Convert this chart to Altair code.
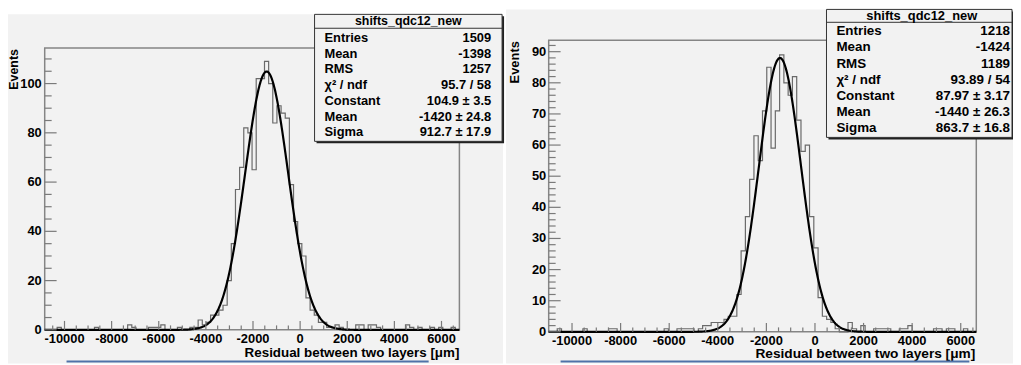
import altair as alt
import pandas as pd

# ---------------- data ----------------
# 100 equal bins over each histogram's x range
left_range = [-10840, 6760]
right_range = [-10960, 6640]

left_counts = [
    0, 0, 0, 1, 0, 0, 0, 0, 0, 0,
    0, 0, 1, 0, 0, 0, 0, 0, 0, 0,
    2, 1, 0, 0, 0, 1, 1, 1, 2, 0,
    0, 0, 1, 0, 0, 1, 1, 4, 2, 3,
    6, 6, 8, 10, 20, 35, 57, 66, 82, 80,
    65, 102, 102, 109, 100, 84, 91, 88, 86, 59,
    44, 35, 30, 13, 8, 6, 3, 3, 1, 1,
    2, 1, 0, 0, 0, 2, 2, 0, 2, 2,
    1, 0, 0, 0, 0, 0, 0, 2, 1, 0,
    1, 0, 0, 1, 0, 1, 0, 0, 1, 0,
]
right_counts = [
    0, 0, 1, 0, 0, 0, 0, 0, 1, 0,
    0, 0, 0, 0, 1, 1, 0, 0, 0, 0,
    0, 0, 0, 0, 0, 0, 0, 1, 0, 0,
    1, 1, 1, 1, 0, 1, 2, 2, 3, 3,
    3, 4, 5, 5, 12, 26, 37, 49, 63, 55,
    71, 85, 59, 71, 89, 80, 76, 82, 68, 58,
    60, 37, 27, 11, 5, 4, 3, 1, 0, 0,
    3, 1, 0, 2, 0, 0, 1, 1, 1, 1,
    0, 0, 1, 1, 2, 0, 0, 0, 0, 0,
    1, 1, 0, 1, 1, 0, 0, 1, 0, 0,
]

left_fit = [104.9, -1420, 912.7]     # Constant, Mean, Sigma
right_fit = [87.97, -1440, 863.7]

hist_name = "shifts_qdc12_new"
stat_labels = ["Entries", "Mean", "RMS", "χ² / ndf", "Constant", "Mean", "Sigma"]
left_stat_values = ["1509", "-1398", "1257", "95.7 / 58", "104.9 ± 3.5", "-1420 ± 24.8", "912.7 ± 17.9"]
right_stat_values = ["1218", "-1424", "1189", "93.89 / 54", "87.97 ± 3.17", "-1440 ± 26.3", "863.7 ± 16.8"]

x_label_values = [-10000, -8000, -6000, -4000, -2000, 0, 2000, 4000, 6000]
left_y_labels = [0, 20, 40, 60, 80, 100]
right_y_labels = [0, 10, 20, 30, 40, 50, 60, 70, 80, 90]

X_TITLE = "Residual between two layers [μm]"
Y_TITLE = "Events"

FONT = "Liberation Sans"
BG = "#f2f2f2"
FRAME = "#858585"
TICK = "#7a7a7a"
HIST = "#6a6a6a"
BLUE = "#4f72a8"

CW, CH = 1013, 357   # whole drawing area (page minus 8px margin)

# ---------------- layout (pixels, chart coordinates) ----------------
left_geom = dict(
    fx=[37, 455], fy=[39, 323], ymax=114.4, yminor=5, xminor=500,
    bg=[0, 499, 5, 357],
    box=[309, 498, 5, 133], sep=19, title_xy=[403.5, 12],
    lab_x=319, val_x=487, row0=29, rowstep=15.8,
    blue=[59, 424, 355],
    lfs=13, tfs=13.5, efs=12.5, sfs=13,
    ylab_x=34, xlab_y=326.5, xtitle=[455, 350.5], ytitle=[6, 40],
)
right_geom = dict(
    fx=[545, 976], fy=[31, 325], ymax=93.7, yminor=2, xminor=500,
    bg=[502, 1013, 0, 357],
    box=[825, 1012, 0, 129], sep=13, title_xy=[921, 6.5],
    lab_x=835, val_x=1010, row0=22, rowstep=16.3,
    blue=[557, 969, 355],
    lfs=13, tfs=13.8, efs=13, sfs=13.5,
    ylab_x=542.5, xlab_y=328, xtitle=[975, 351.5], ytitle=[511, 32],
)


def panel(counts, xrange_, fit, stat_values, y_labels, g):
    lo, hi = xrange_
    n = len(counts)
    edges = [lo + (hi - lo) * i / n for i in range(n + 1)]
    hist_df = pd.DataFrame({"x": edges, "y": list(counts) + [counts[-1]]})
    one = pd.DataFrame({"a": [0]})
    fx0, fx1 = g["fx"]
    fy0, fy1 = g["fy"]

    xs = alt.Scale(domain=[lo, hi], range=[fx0, fx1], nice=False, zero=False, clamp=True)
    ys = alt.Scale(domain=[0, g["ymax"]], range=[fy1, fy0], nice=False, zero=False, clamp=True)

    def X(f):
        return alt.X(f, type="quantitative", scale=xs, axis=None)

    def Y(f):
        return alt.Y(f, type="quantitative", scale=ys, axis=None)

    bold = dict(font=FONT, fontWeight="bold", color="black")
    layers = []
    # panel background
    b0, b1, b2, b3 = g["bg"]
    layers.append(alt.Chart(one).mark_rect(fill=BG).encode(
        x=alt.value(b0), x2=alt.value(b1), y=alt.value(b2), y2=alt.value(b3)))
    # frame
    layers.append(alt.Chart(one).mark_rect(fillOpacity=0, stroke=FRAME, strokeWidth=1.5).encode(
        x=alt.value(fx0), x2=alt.value(fx1), y=alt.value(fy0), y2=alt.value(fy1)))
    # histogram outline
    layers.append(alt.Chart(hist_df).mark_line(
        interpolate="step-after", color=HIST, strokeWidth=1.2).encode(
        x=X("x"), y=Y("y")))
    # gaussian fit
    c, m, s = fit
    layers.append(alt.Chart(alt.sequence(lo, hi + 1, 20, as_="x"))
                  .transform_calculate(gy=f"{c}*exp(-0.5*pow((datum.x-({m}))/{s},2))")
                  .mark_line(color="black", strokeWidth=2.2)
                  .encode(x=X("x"), y=Y("gy")))
    # y ticks (pointing inside)
    ymaj = pd.DataFrame({"v": y_labels})
    ymin_vals = [v for v in range(0, int(g["ymax"]) + 1, g["yminor"]) if v not in y_labels]
    ymin = pd.DataFrame({"v": ymin_vals})
    layers.append(alt.Chart(ymaj).mark_rule(color=TICK, strokeWidth=1.2).encode(
        y=Y("v"), x=alt.value(fx0), x2=alt.value(fx0 + 12)))
    layers.append(alt.Chart(ymin).mark_rule(color=TICK, strokeWidth=1.2).encode(
        y=Y("v"), x=alt.value(fx0), x2=alt.value(fx0 + 7)))
    # x ticks (pointing inside)
    xmaj = pd.DataFrame({"v": x_label_values})
    start = (int(lo) // g["xminor"] + 1) * g["xminor"]
    xmin_vals = [v for v in range(start, int(hi), g["xminor"]) if v not in x_label_values]
    xmin = pd.DataFrame({"v": xmin_vals})
    layers.append(alt.Chart(xmaj).mark_rule(color=TICK, strokeWidth=1.2).encode(
        x=X("v"), y=alt.value(fy1), y2=alt.value(fy1 - 9)))
    layers.append(alt.Chart(xmin).mark_rule(color=TICK, strokeWidth=1.2).encode(
        x=X("v"), y=alt.value(fy1), y2=alt.value(fy1 - 4.5)))
    # tick labels
    layers.append(alt.Chart(xmaj).transform_calculate(lab="datum.v + ''").mark_text(
        align="center", baseline="top", fontSize=g["lfs"], **bold).encode(
        x=X("v"), y=alt.value(g["xlab_y"]), text="lab:N"))
    layers.append(alt.Chart(ymaj).transform_calculate(lab="datum.v + ''").mark_text(
        align="right", baseline="middle", fontSize=g["lfs"], **bold).encode(
        y=Y("v"), x=alt.value(g["ylab_x"]), text="lab:N"))
    # axis titles
    layers.append(alt.Chart(pd.DataFrame({"t": [X_TITLE]})).mark_text(
        align="right", baseline="alphabetic", fontSize=g["tfs"], **bold).encode(
        x=alt.value(g["xtitle"][0]), y=alt.value(g["xtitle"][1]), text="t:N"))
    layers.append(alt.Chart(pd.DataFrame({"t": [Y_TITLE]})).mark_text(
        align="right", baseline="middle", angle=270, fontSize=g["efs"], **bold).encode(
        x=alt.value(g["ytitle"][0]), y=alt.value(g["ytitle"][1]), text="t:N"))
    # blue line at the bottom
    bx1, bx2, by = g["blue"]
    layers.append(alt.Chart(one).mark_rule(color=BLUE, strokeWidth=2).encode(
        x=alt.value(bx1), x2=alt.value(bx2), y=alt.value(by)))
    # stats box
    x1, x2, y1, y2 = g["box"]
    layers.append(alt.Chart(one).mark_rect(fill="#222222").encode(
        x=alt.value(x1 + 2), x2=alt.value(x2 + 2), y=alt.value(y1 + 2), y2=alt.value(y2 + 2)))
    layers.append(alt.Chart(one).mark_rect(fill=BG, stroke="#333333", strokeWidth=1).encode(
        x=alt.value(x1), x2=alt.value(x2), y=alt.value(y1), y2=alt.value(y2)))
    layers.append(alt.Chart(one).mark_rule(color="#333333", strokeWidth=1).encode(
        x=alt.value(x1), x2=alt.value(x2), y=alt.value(g["sep"])))
    layers.append(alt.Chart(pd.DataFrame({"t": [hist_name]})).mark_text(
        align="center", baseline="middle", fontSize=g["sfs"] - 0.5, **bold).encode(
        x=alt.value(g["title_xy"][0]), y=alt.value(g["title_xy"][1]), text="t:N"))
    sdf = pd.DataFrame({"label": stat_labels, "value": stat_values,
                        "row": list(range(len(stat_labels)))})
    base = alt.Chart(sdf).transform_calculate(py=f"{g['row0']} + datum.row*{g['rowstep']}")
    layers.append(base.mark_text(align="left", baseline="middle", fontSize=g["sfs"], **bold).encode(
        x=alt.value(g["lab_x"]), y=alt.Y("py:Q", scale=None), text="label:N"))
    layers.append(base.mark_text(align="right", baseline="middle", fontSize=g["sfs"], **bold).encode(
        x=alt.value(g["val_x"]), y=alt.Y("py:Q", scale=None), text="value:N"))

    return alt.layer(*layers)


left = panel(left_counts, left_range, left_fit, left_stat_values, left_y_labels, left_geom)
right = panel(right_counts, right_range, right_fit, right_stat_values, right_y_labels, right_geom)

chart = (alt.layer(left, right)
         .resolve_scale(x="independent", y="independent")
         .properties(width=CW, height=CH, padding=0,
                     autosize=alt.AutoSizeParams(type="none"))
         .configure_view(strokeWidth=0))

chart.save("out.html", embed_options={"renderer": "svg", "actions": False})
